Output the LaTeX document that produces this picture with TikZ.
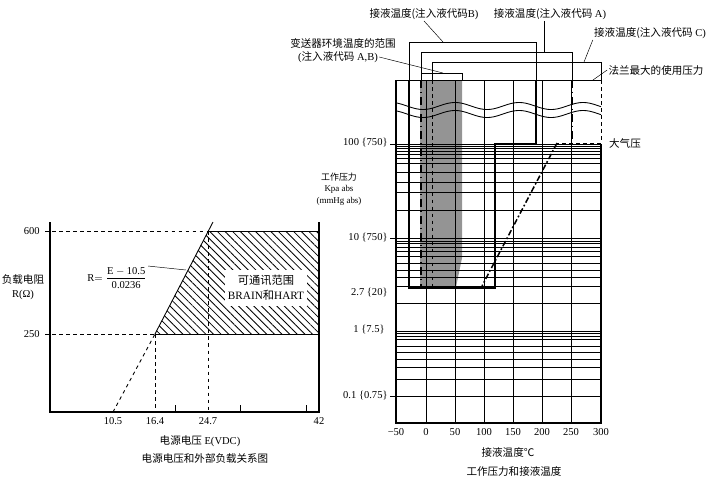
\documentclass[tikz,border=0pt]{standalone}
\usepackage{amsmath}
\usepackage{fontspec}
\setmainfont{Liberation Serif}
\newfontfamily\cjk{Noto Sans CJK SC}
\newcommand{\zh}[1]{{\cjk #1}}
\usetikzlibrary{patterns.meta}

\tikzset{
  lbl/.style={font=\fontsize{9}{12}\selectfont, inner sep=1pt},
  small lbl/.style={font=\fontsize{7.6}{10}\selectfont, inner sep=1pt},
  gridline/.style={line width=0.75pt},
  frame/.style={line width=1pt},
  limit/.style={line width=1.8pt},
  dashdot limit/.style={line width=1.8pt, dash pattern=on 7pt off 3pt on 1.5pt off 3pt},
  slant limit/.style={line width=1.3pt, dash pattern=on 5pt off 2pt on 1.5pt off 2pt},
}

\begin{document}
\begin{tikzpicture}[x=0.03cm, y=-0.03cm]
    \useasboundingbox (0,0) rectangle (711,479);

    % ---------- Supply voltage and external load ----------
    % Hatched range
    \fill[pattern={Lines[angle=-45,distance=4.6pt,line width=0.7pt]}]
        (155,334) -- (208,231) -- (319,231) -- (319,334) -- cycle;
    \node[lbl, fill=white, align=center, minimum width=2.46cm, minimum height=1.1cm,
          font=\fontsize{9.6}{12.5}\selectfont] (commRange) at (266,288)
        {\zh{可通讯范围}\\BRAIN\zh{和}HART};

    % Axes
    \draw[frame] (50,222) -- (50,412) -- (319,412) -- (319,222);
    \foreach \x in {175,240,306}
        \draw[gridline] (\x,412) -- (\x,405);

    % Limits
    \draw[gridline, dashed] (45,231) -- (208,231);
    \draw[gridline] (208,231) -- (319,231);
    \draw[gridline, dashed] (45,334) -- (155,334);
    \draw[gridline] (155,334) -- (319,334);
    \draw[gridline, dashed] (155,334) -- (155,412);
    \draw[gridline, dashed] (208,231) -- (208,412);
    \draw[gridline, dashed] (113,412) -- (155,334);
    \draw[gridline] (155,334) -- (213,222);

    % Labels
    \node[lbl, anchor=east] (r600) at (41,231) {600};
    \node[lbl, anchor=east] (r250) at (41,334) {250};
    \node[lbl, align=center] (loadR) at (23,287) {\zh{负载电阻}\\R(Ω)};
    \node[lbl] (formula) at (117,278) {R$=\dfrac{\text{E}-\text{10.5}}{\text{0.0236}}$};
    \coordinate (onLine) at (186,270);
    \draw (formula.north east) -- (onLine);

    \node[lbl] (e105) at (113,421) {10.5};
    \node[lbl] (e164) at (155,421) {16.4};
    \node[lbl] (e247) at (208,421) {24.7};
    \node[lbl] (e42) at (319,421) {42};
    \node[lbl] (eAxis) at (200,441) {\zh{电源电压} E(VDC)};
    \node[lbl] (leftTitle) at (205,458) {\zh{电源电压和外部负载关系图}};

    % ---------- Working pressure and process temperature ----------
    % Ambient temperature range
    \fill[black!42] (420,80) -- (462,80) -- (462,258) -- (456,287) -- (420,287) -- cycle;

    % Grid
    \foreach \y in {144,146,148,151,154,158,163,172,182,192,210,
                    238,241,243,247,251,256,263,270,277,286,303,
                    331,333,336,339,346,352,359,367,379,396}
        \draw[gridline] (396,\y) -- (601,\y);
    \foreach \x in {426,455,484,513,542,571}
        \draw[gridline] (\x,80) -- (\x,423);
    \draw[gridline] (396,80) -- (601,80);
    \draw[frame] (601,144) -- (601,423) -- (396,423) -- (396,80);
    \foreach \y in {144,238,396}
        \draw[gridline] (390,\y) -- (396,\y);

    % Axis break
    \foreach \w in {106,114}
        \draw[gridline] plot[domain=396:601, samples=120, smooth]
            (\x,{\w+3.5*sin(5.625*(\x-396)-62)});

    % Code B
    \draw[gridline] (409,80) -- (409,42) -- (536,42) -- (536,80);
    \draw[limit] (409,80) -- (409,288) -- (495,288) -- (495,144) -- (536,144) -- (536,80);
    % Code A
    \draw[gridline] (421,80) -- (421,52) -- (572,52) -- (572,80);
    \draw[dashdot limit] (421,80) -- (421,287);
    \draw[dashdot limit] (572,80) -- (572,143);
    % Code C
    \draw[gridline] (432,80) -- (432,62) -- (601,62) -- (601,80);
    \draw[gridline, dashed] (432,80) -- (432,288);
    \draw[gridline, dashed] (601,80) -- (601,143) -- (557,143);
    \draw[slant limit] (557,143) -- (482,286);
    % Ambient box
    \draw[gridline] (421,73) -- (462,73) -- (462,80);

    % Y labels
    \node[lbl, anchor=east] (p100) at (389,143) {100 \{750\}};
    \node[small lbl, align=center] (pAxis) at (339,189) {\zh{工作压力}\\Kpa abs\\(mmHg abs)};
    \node[lbl, anchor=east] (p10) at (389,238) {10 \{750\}};
    \node[lbl, anchor=east] (p27) at (389,293) {2.7 \{20\}};
    \node[lbl, anchor=east] (p1) at (386,330) {1 \{7.5\}};
    \node[lbl, anchor=east] (p01) at (389,396) {0.1 \{0.75\}};

    % X labels
    \node[lbl] (tm50) at (396,432) {−50};
    \node[lbl] (t0) at (426,432) {0};
    \node[lbl] (t50) at (455,432) {50};
    \node[lbl] (t100) at (484,432) {100};
    \node[lbl] (t150) at (513,432) {150};
    \node[lbl] (t200) at (542,432) {200};
    \node[lbl] (t250) at (571,432) {250};
    \node[lbl] (t300) at (601,432) {300};
    \node[lbl] (tAxis) at (508,452) {\zh{接液温度℃}};
    \node[lbl] (rightTitle) at (514,471) {\zh{工作压力和接液温度}};

    % Callouts
    \node[lbl] (lblB) at (424,14) {\zh{接液温度(注入液代码}B)};
    \node[lbl] (lblA) at (550,14) {\zh{接液温度(注入液代码} A)};
    \node[lbl] (lblC) at (650,33) {\zh{接液温度(注入液代码} C)};
    \node[lbl] (lblAmb) at (343,43) {\zh{变送器环境温度的范围}};
    \node[lbl] (lblAmbCode) at (338,57) {(\zh{注入液代码} A,B)};
    \node[lbl] (lblFlange) at (656,70) {\zh{法兰最大的使用压力}};
    \node[lbl] (lblAtm) at (625,143) {\zh{大气压}};

    \coordinate (tipB) at (443,42);
    \coordinate (tipA) at (544,52);
    \coordinate (tipC) at (584,62);
    \coordinate (tipAmb) at (443,73);
    \coordinate (tipFlange) at (593,80);
    \draw (lblB.south) -- (tipB);
    \draw (lblA.south -| tipA) -- (tipA);
    \draw (lblC.south west) -- (tipC);
    \draw (lblAmbCode.east) -- (tipAmb);
    \draw (lblFlange.west) -- (tipFlange);
\end{tikzpicture}
\end{document}
